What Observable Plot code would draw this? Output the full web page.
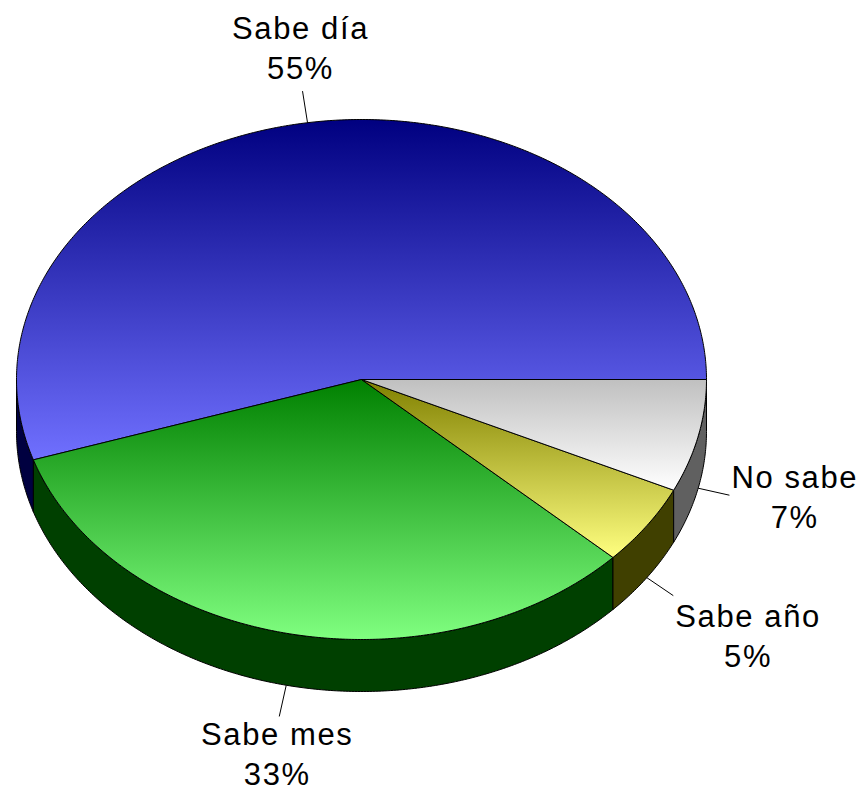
<!DOCTYPE html>
<html><head><meta charset="utf-8">
<script src="https://cdn.jsdelivr.net/npm/d3@7"></script>
<script src="https://cdn.jsdelivr.net/npm/@observablehq/plot@0.6"></script>
<style>body{margin:0;background:#fff}</style>
</head><body><div id="chart"></div>
<script>
// ---- data ----
const categories = ["Sabe día", "Sabe mes", "Sabe año", "No sabe"];
const values = [55, 33, 5, 7];
// ---- styles ----
const topColors = [["#000080", "#7070ff"], ["#008000", "#80ff80"], ["#808000", "#ffff80"], ["#c0c0c0", "#ffffff"]];
const sideColors = ["#000040", "#004000", "#404000", "#606060"];

const W = 866, H = 792;
const cx = 361, cy = 379, rx = 345, ry = 260, depth = 52;
const fontSize = 31, letterSp = 1.6, lineH = 40;

const total = d3.sum(values);
const rad = d => d * Math.PI / 180;
const pt = (a, dz = 0) => ({x: cx + rx * Math.cos(rad(a)), y: cy - ry * Math.sin(rad(a)) + dz});
function arc(a0, a1, dz) {
  const n = Math.max(2, Math.ceil(Math.abs(a1 - a0) / 0.5));
  return d3.range(n + 1).map(i => pt(a0 + (a1 - a0) * i / n, dz));
}

let acc = 0;
const slices = values.map((v, i) => {
  const a0 = acc / total * 360; acc += v;
  const a1 = acc / total * 360;
  return {i, name: categories[i], value: v, a0, a1};
});

// polygons
const tops = slices.map(s => {
  const c = {x: cx, y: cy};
  return [c, ...arc(s.a0, s.a1, 0), c];
});
const sides = slices.map(s => {
  const lo = Math.max(s.a0, 180), hi = Math.min(s.a1, 360);
  if (lo >= hi) return null;
  const p = [...arc(lo, hi, 0), ...arc(hi, lo, depth)];
  return [...p, p[0]];
});

// labels
const canvas = document.createElement("canvas");
const ctx = canvas.getContext("2d");
ctx.font = `${fontSize}px "Liberation Sans", Arial, sans-serif`;
const textW = t => ctx.measureText(t).width + letterSp * t.length;
const labels = slices.map(s => {
  const mid = (s.a0 + s.a1) / 2;
  const ux = Math.cos(rad(mid)), uy = -Math.sin(rad(mid));
  const edge = pt(mid, uy > 0 ? depth : 0);
  const end = {x: edge.x + 32 * ux, y: edge.y + 32 * uy};
  const pct = Math.round(s.value / total * 100) + "%";
  const text = s.name + "\n" + pct;
  const w = Math.max(textW(s.name), textW(pct));
  const fx = ux > 0.45 ? 1 : ux < -0.45 ? -1 : 0;
  const fy = uy > 0.45 ? 1 : uy < -0.45 ? -1 : 0;
  return {x1: edge.x, y1: edge.y, x2: end.x, y2: end.y,
          tx: end.x + fx * (w / 2 + 2) - (fx === 0 ? 2 : 0),
          ty: end.y + (fy > 0 ? (fx === 0 ? 36 : 39) : fy < 0 ? -45 : 0), text};
});

const marks = [];
sides.forEach((p, i) => {
  if (p) marks.push(Plot.line(p, {x: "x", y: "y", fill: sideColors[i], stroke: "#000", strokeWidth: 1, curve: "linear"}));
});
tops.forEach((p, i) => {
  marks.push(Plot.line(p, {x: "x", y: "y", fill: `url(#grad${i})`, stroke: "#000", strokeWidth: 1, curve: "linear", strokeLinejoin: "miter"}));
});
marks.push(Plot.link(labels, {x1: "x1", y1: "y1", x2: "x2", y2: "y2", stroke: "#000", strokeWidth: 1}));
marks.push(Plot.text(labels, {x: "tx", y: "ty", text: "text", fontSize, lineHeight: lineH / fontSize, lineAnchor: "middle", textAnchor: "middle", fill: "#000"}));

const svg = Plot.plot({
  width: W, height: H,
  margin: 0,
  x: {domain: [0, W], range: [0, W], axis: null},
  y: {domain: [0, H], range: [0, H], axis: null},
  style: {fontFamily: '"Liberation Sans", Arial, sans-serif', letterSpacing: letterSp + "px", background: "#fff"},
  marks
});

const defs = d3.create("svg:defs");
topColors.forEach((c, i) => {
  const g = defs.append("linearGradient").attr("id", `grad${i}`).attr("x1", 0).attr("y1", 0).attr("x2", 0).attr("y2", 1);
  g.append("stop").attr("offset", "0%").attr("stop-color", c[0]);
  g.append("stop").attr("offset", "100%").attr("stop-color", c[1]);
});
svg.insertBefore(defs.node(), svg.firstChild);
document.getElementById("chart").append(svg);
</script>
</body></html>
